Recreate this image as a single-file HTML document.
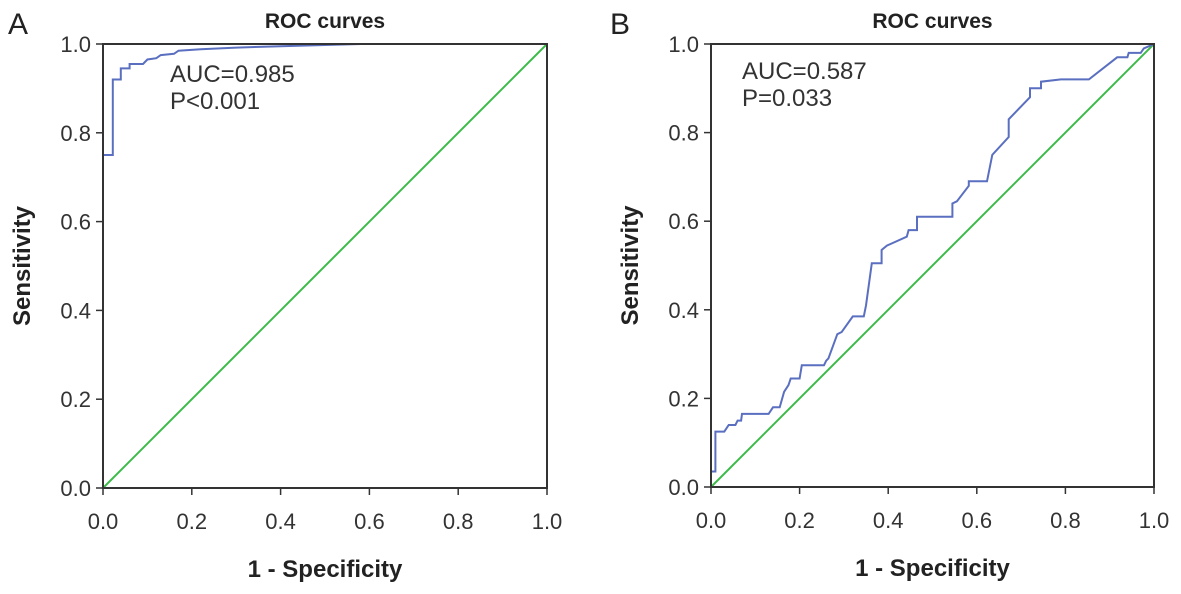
<!DOCTYPE html>
<html><head><meta charset="utf-8"><style>
body{margin:0;background:#fff;}
svg{display:block;font-family:"Liberation Sans",Arial,sans-serif;}
</style></head><body>
<svg id="chart" width="1181" height="594" viewBox="0 0 1181 594"></svg>
<script>
const tickValues=[0,0.2,0.4,0.6,0.8,1.0];
const tickLabels=["0.0","0.2","0.4","0.6","0.8","1.0"];
const aSpec=[0,0,0.022,0.022,0.04,0.04,0.06,0.06,0.09,0.1,0.12,0.13,0.16,0.17,0.22,0.3,0.4,0.58,1];
const aSens=[0,0.75,0.75,0.92,0.92,0.945,0.945,0.955,0.955,0.965,0.968,0.975,0.978,0.985,0.988,0.992,0.995,1,1];
const bSpec=[0,0,0.01,0.01,0.03,0.04,0.055,0.06,0.068,0.07,0.13,0.14,0.155,0.165,0.175,0.18,0.2,0.205,0.255,0.26,0.265,0.285,0.295,0.32,0.345,0.35,0.363,0.385,0.385,0.397,0.442,0.446,0.465,0.465,0.545,0.545,0.555,0.582,0.582,0.623,0.635,0.672,0.672,0.72,0.72,0.745,0.745,0.79,0.853,0.917,0.94,0.943,0.97,0.977,1];
const bSens=[0,0.035,0.035,0.125,0.125,0.14,0.14,0.15,0.15,0.165,0.165,0.18,0.18,0.215,0.23,0.245,0.245,0.275,0.275,0.285,0.29,0.345,0.35,0.385,0.385,0.41,0.505,0.505,0.535,0.545,0.565,0.58,0.58,0.61,0.61,0.64,0.645,0.68,0.69,0.69,0.75,0.79,0.83,0.88,0.9,0.9,0.915,0.92,0.92,0.97,0.97,0.98,0.98,0.99,1];
const panels=[
 {id:"a",letter:"A",x0:103,x1:547,y0:488,y1:44,lx:8,ax:[170,58],px:"P<0.001",auc:"AUC=0.985",spec:aSpec,sens:aSens},
 {id:"b",letter:"B",x0:711,x1:1154,y0:487,y1:44,lx:610,ax:[742,55],px:"P=0.033",auc:"AUC=0.587",spec:bSpec,sens:bSens}
];
const NS="http://www.w3.org/2000/svg";
const svg=document.getElementById("chart");
function mk(tag,attrs,parent,text){const e=document.createElementNS(NS,tag);for(const k in attrs)e.setAttribute(k,attrs[k]);if(text!==undefined)e.textContent=text;(parent||svg).appendChild(e);return e;}
panels.forEach(p=>{
 const sx=v=>p.x0+v*(p.x1-p.x0), sy=v=>p.y0+v*(p.y1-p.y0);
 const g=mk("g",{});
 
 
 const L=mk("text",{x:p.lx,y:34,"font-size":30,fill:"#222"},g,p.letter);
 
 
 const t=mk("text",{x:(p.x0+p.x1)/2,y:28,"font-size":21,"font-weight":"bold","text-anchor":"middle",fill:"#222"},g,"ROC curves");
 
 
 tickValues.forEach((v,i)=>{
  mk("line",{x1:p.x0-7,x2:p.x0,y1:sy(v),y2:sy(v),stroke:"#333","stroke-width":1.5},g);
  const yl=mk("text",{x:p.x0-12,y:sy(v)+8,"font-size":22,"text-anchor":"end",fill:"#333"},g,tickLabels[i]);
  
  
  mk("line",{x1:sx(v),x2:sx(v),y1:p.y0,y2:p.y0+7,stroke:"#333","stroke-width":1.5},g);
  const xl=mk("text",{x:sx(v),y:p.y0+41,"font-size":22,"text-anchor":"middle",fill:"#333"},g,tickLabels[i]);
  
  
 });
 const yt=mk("text",{x:0,y:0,"font-size":24,"font-weight":"bold","text-anchor":"middle",fill:"#222",transform:`translate(${p.x0-73},${(p.y0+p.y1)/2}) rotate(-90)`},g,"Sensitivity");
 
 
 const xt=mk("text",{x:(p.x0+p.x1)/2,y:p.y0+89,"font-size":24,"font-weight":"bold","text-anchor":"middle",fill:"#222"},g,"1 - Specificity");
 
 
 const ref=mk("line",{x1:sx(0),y1:sy(0),x2:sx(1),y2:sy(1),stroke:"#3dbb4a","stroke-width":2},g);
 
 
 const pts=p.spec.map((s,i)=>sx(s).toFixed(1)+","+sy(p.sens[i]).toFixed(1)).join(" ");
 const c=mk("polyline",{points:pts,fill:"none",stroke:"#5a6fc0","stroke-width":2},g);
 
 
 const box=mk("rect",{x:p.x0,y:p.y1,width:p.x1-p.x0,height:p.y0-p.y1,fill:"none",stroke:"#333","stroke-width":2},g);
 
 
 const a=mk("text",{x:p.ax[0],y:p.ax[1]+24,"font-size":24,fill:"#333"},g,p.auc);
 
 
 const pv=mk("text",{x:p.ax[0],y:p.ax[1]+51,"font-size":24,fill:"#333"},g,p.px);
 
 
});
</script>
</body></html>
